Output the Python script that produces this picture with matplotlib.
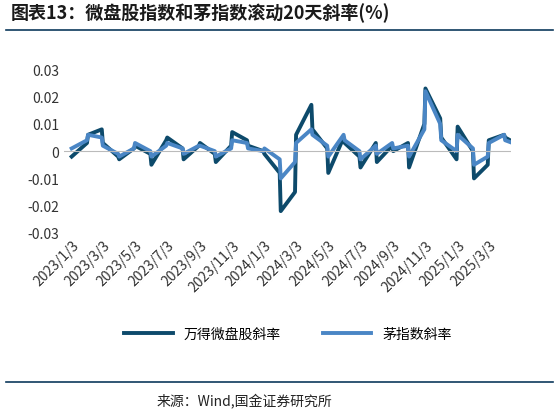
import matplotlib
matplotlib.use("Agg")
import matplotlib.pyplot as plt
import pandas as pd

plt.rcParams['font.family'] = ['Noto Sans CJK SC', 'DejaVu Sans']

dates = pd.date_range("2023-01-03", periods=57, freq="SMS-3")
micro = [-0.002, 0.003, 0.006, 0.008, 0.003, -0.002, -0.003, 0.001, 0.002, -0.001,
         -0.005, 0.004, 0.005, 0.001, -0.003, 0.002, 0.003, -0.001, -0.004, 0.002,
         0.007, 0.004, 0.002, 0.000, -0.001, -0.008, -0.022, -0.015, 0.006, 0.017,
         0.008, 0.001, -0.008, 0.005, 0.003, -0.002, -0.006, 0.003, -0.004, 0.002,
         0.000, 0.003, -0.006, 0.010, 0.023, 0.012, 0.005, -0.003, 0.009, 0.000,
         -0.010, -0.005, 0.004, 0.006, 0.005, 0.002, 0.003]
mao = [0.001, 0.004, 0.006, 0.005, 0.002, -0.001, -0.002, 0.001, 0.003, 0.000,
       -0.002, 0.002, 0.003, 0.001, -0.001, 0.002, 0.002, 0.000, -0.002, 0.001,
       0.004, 0.003, 0.001, 0.000, 0.001, -0.003, -0.010, -0.004, 0.003, 0.008,
       0.006, 0.002, -0.002, 0.006, 0.004, 0.000, -0.003, 0.002, -0.001, 0.003,
       0.001, 0.002, -0.002, 0.008, 0.022, 0.010, 0.004, 0.000, 0.006, 0.001,
       -0.005, -0.002, 0.003, 0.006, 0.004, 0.002, 0.002]
tick_labels = ["2023/1/3", "2023/3/3", "2023/5/3", "2023/7/3", "2023/9/3", "2023/11/3",
               "2024/1/3", "2024/3/3", "2024/5/3", "2024/7/3", "2024/9/3", "2024/11/3",
               "2025/1/3", "2025/3/3"]

fig = plt.figure(figsize=(5.59, 4.14), dpi=100)
ax = fig.add_axes([0.115, 0.435, 0.8, 0.395])
ax.plot(dates, micro, color="#0d4a6b", lw=2.8, label="万得微盘股斜率")
ax.plot(dates, mao, color="#4a86c5", lw=2.8, label="茅指数斜率")
ax.axhline(0, color="#bbbbbb", lw=0.8)
ax.set_ylim(-0.03, 0.03)
ax.set_yticks([-0.03, -0.02, -0.01, 0, 0.01, 0.02, 0.03])
ax.set_yticklabels(["-0.03", "-0.02", "-0.01", "0", "0.01", "0.02", "0.03"], fontsize=10, color="#333333")
ticks = pd.to_datetime(tick_labels, format="%Y/%m/%d")
ax.set_xticks(ticks)
ax.set_xticklabels(tick_labels, rotation=45, ha="right", rotation_mode="anchor", fontsize=10, color="#333333")
ax.set_xlim(pd.Timestamp("2022-12-20"), pd.Timestamp("2025-04-15"))
for s in ax.spines.values():
    s.set_visible(False)
ax.tick_params(length=0)
ax.legend(loc="upper center", bbox_to_anchor=(0.5, -0.5), ncol=2, frameon=False, fontsize=10, handlelength=3.5, columnspacing=3)
fig.text(0.02, 0.955, "图表13：微盘股指数和茅指数滚动20天斜率(%)", fontsize=13, fontweight="bold", style="italic", color="#1a1a1a")
fig.add_artist(plt.Line2D([0.01, 0.99], [0.925, 0.925], color="#0d3a5c", lw=1.2))
fig.add_artist(plt.Line2D([0.01, 0.99], [0.075, 0.075], color="#0d3a5c", lw=1.2))
fig.text(0.28, 0.02, "来源：Wind,国金证券研究所", fontsize=10, color="#222222")
fig.savefig("out.png", dpi=100)
